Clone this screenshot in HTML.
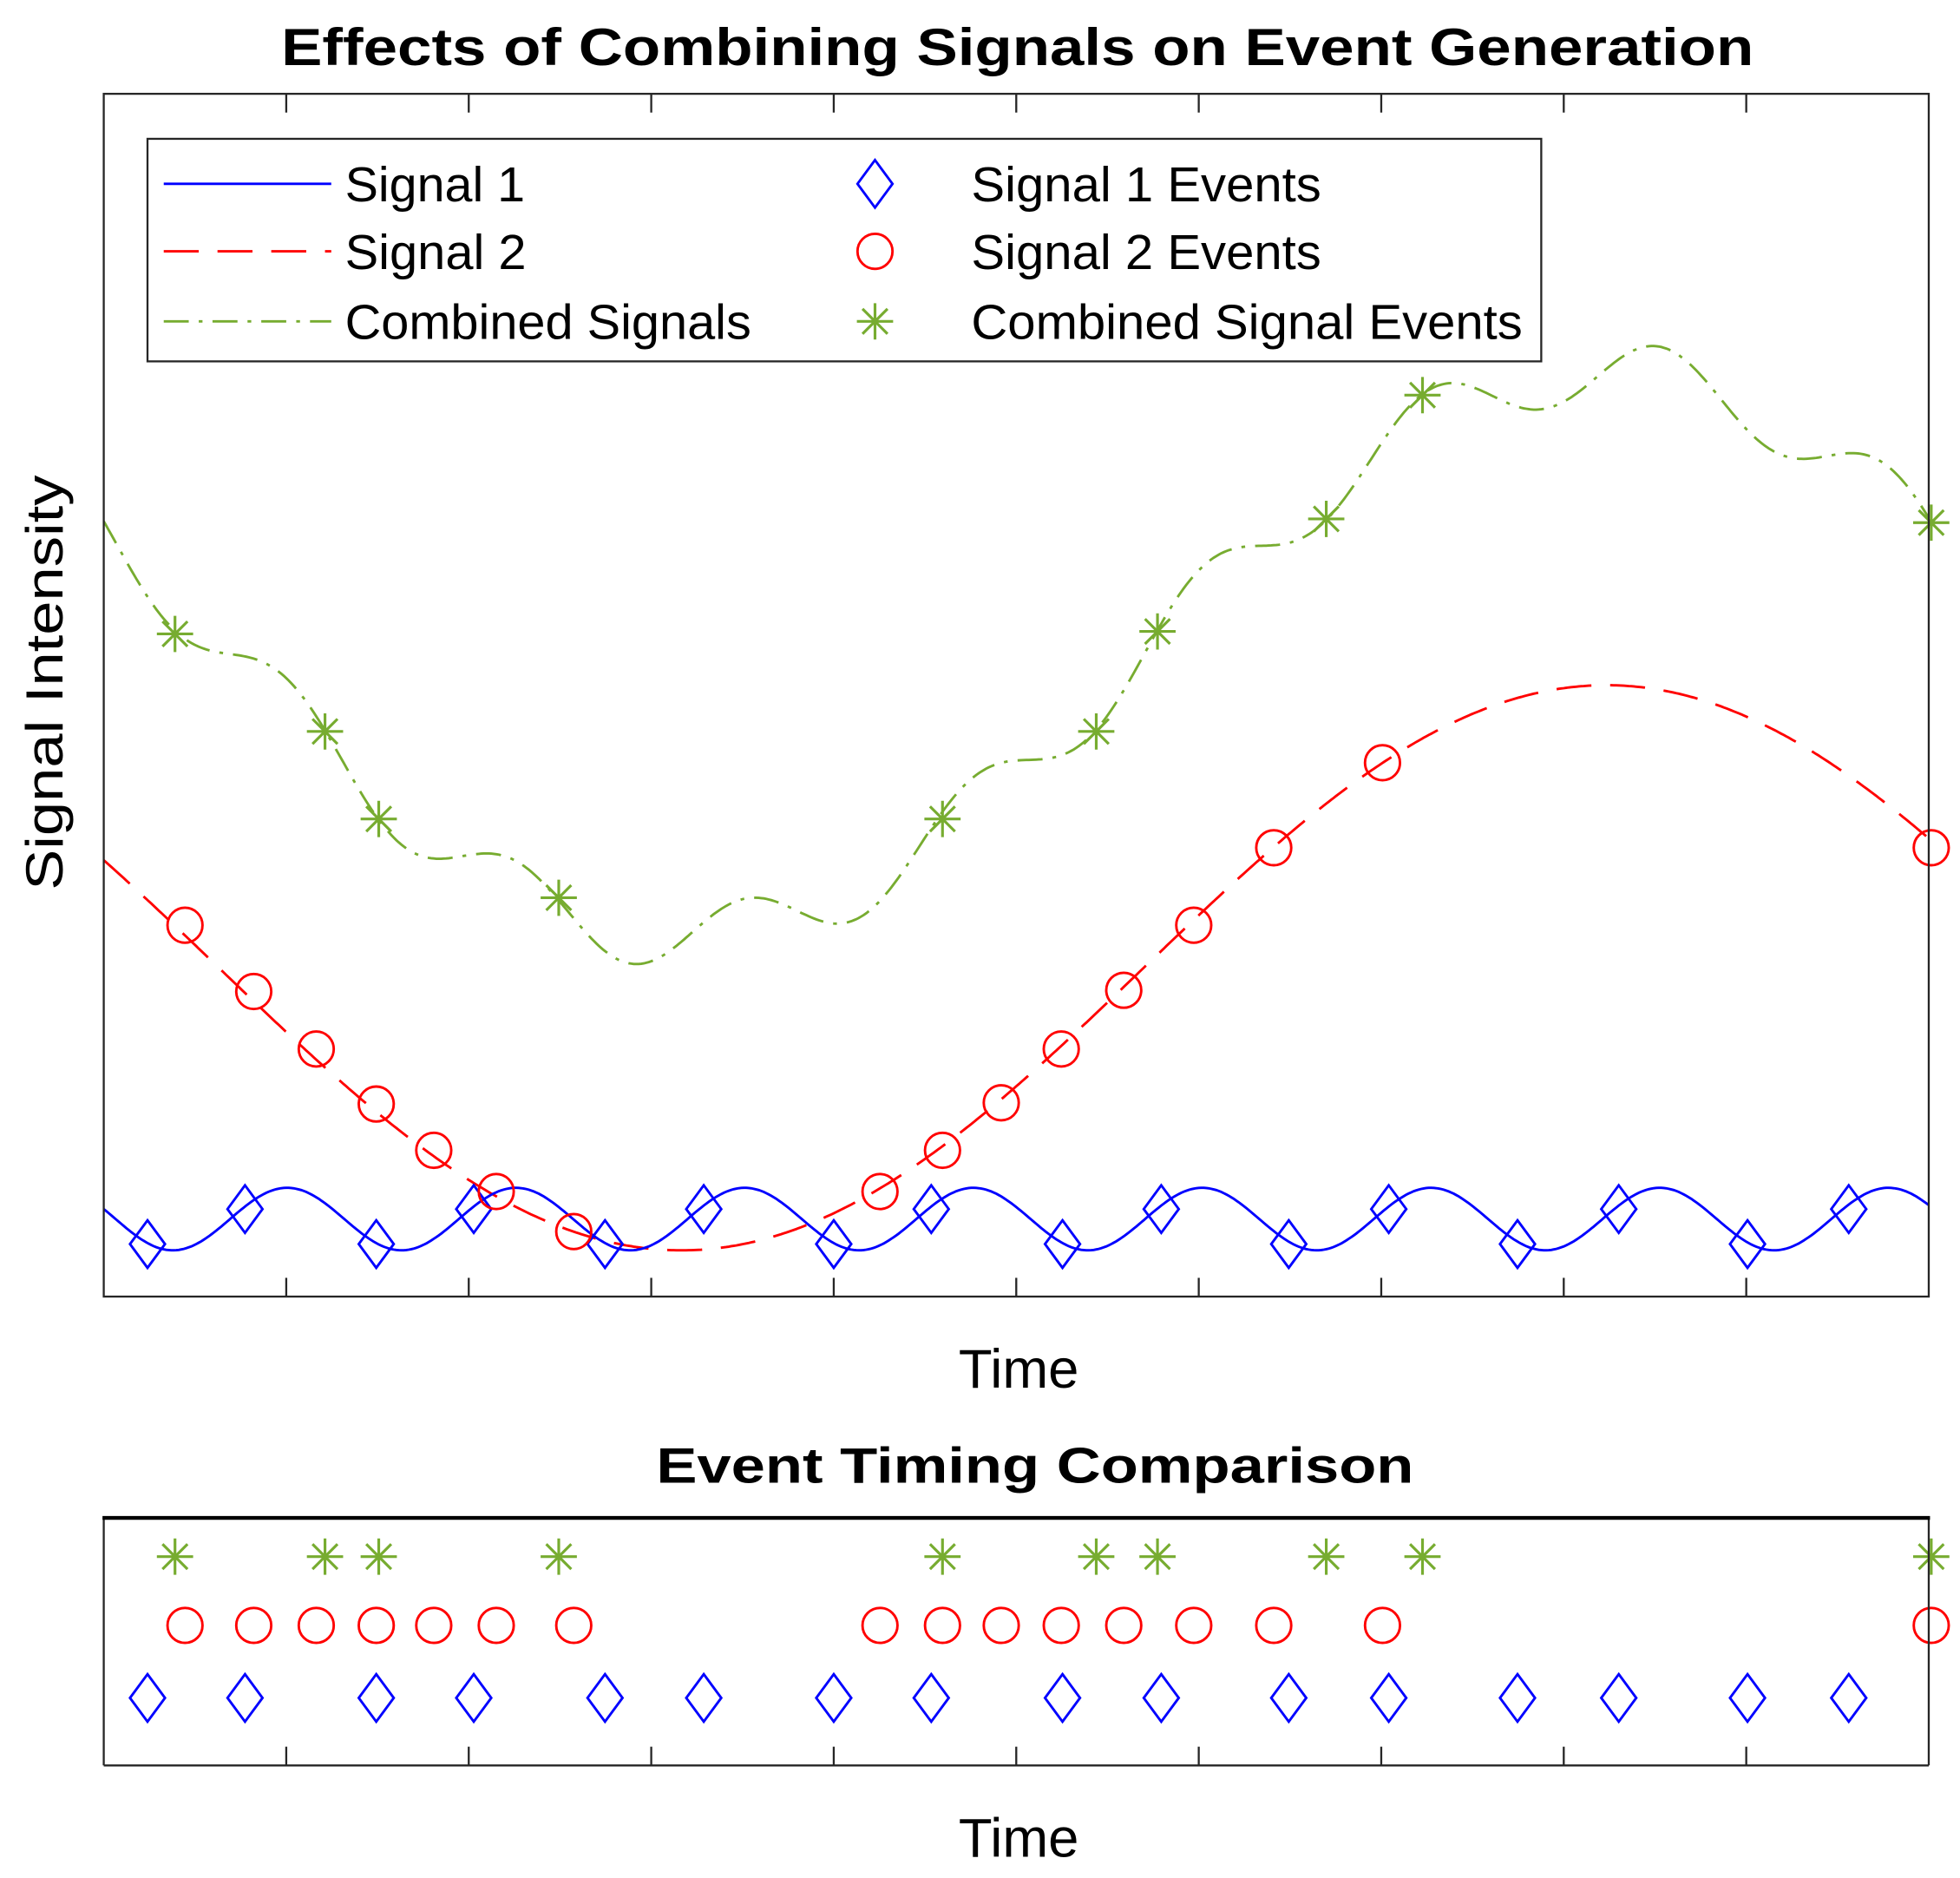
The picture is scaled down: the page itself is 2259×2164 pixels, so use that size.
<!DOCTYPE html>
<html><head><meta charset="utf-8"><style>
html,body{margin:0;padding:0;background:#fff;}
svg{display:block;}
text{font-family:"Liberation Sans",Arial,sans-serif;fill:#000;}
</style></head><body>
<svg id="s" width="2259" height="2164" viewBox="0 0 1568 1502" xmlns="http://www.w3.org/2000/svg">
<rect width="1568" height="1502" fill="#fff"/>
<text x="814" y="52" font-size="42" font-weight="bold" text-anchor="middle" textLength="1178" lengthAdjust="spacingAndGlyphs">Effects of Combining Signals on Event Generation</text>
<g id="main"></g>
<rect x="83" y="75" width="1460" height="962" fill="none" stroke="#262626" stroke-width="1.6"/>
<g id="ticks" stroke="#262626" stroke-width="1.6"></g>
<rect x="118" y="111" width="1115" height="178" fill="#fff" stroke="#262626" stroke-width="1.6"/>
<line x1="131" y1="147" x2="265" y2="147" stroke="#0000ff" stroke-width="2"/>
<line x1="131" y1="201" x2="265" y2="201" stroke="#ff0000" stroke-width="2" stroke-dasharray="28,15"/>
<line x1="131" y1="257" x2="265" y2="257" stroke="#77ac30" stroke-width="2" stroke-dasharray="20,8,3,8"/>
<text x="276" y="161" font-size="39.5" textLength="144" lengthAdjust="spacingAndGlyphs">Signal 1</text>
<text x="276" y="215" font-size="39.5" textLength="145" lengthAdjust="spacingAndGlyphs">Signal 2</text>
<text x="276" y="271" font-size="39.5" textLength="325" lengthAdjust="spacingAndGlyphs">Combined Signals</text>
<text x="777" y="161" font-size="39.5" textLength="280" lengthAdjust="spacingAndGlyphs">Signal 1 Events</text>
<text x="777" y="215" font-size="39.5" textLength="280" lengthAdjust="spacingAndGlyphs">Signal 2 Events</text>
<text x="777" y="271" font-size="39.5" textLength="441" lengthAdjust="spacingAndGlyphs">Combined Signal Events</text>
<g id="legm"></g>
<text x="0" y="0" font-size="42" text-anchor="middle" transform="translate(50,546) rotate(-90)" textLength="332" lengthAdjust="spacingAndGlyphs">Signal Intensity</text>
<text x="815" y="1110" font-size="44" text-anchor="middle">Time</text>
<text x="828" y="1186" font-size="40" font-weight="bold" text-anchor="middle" textLength="606" lengthAdjust="spacingAndGlyphs">Event Timing Comparison</text>
<g id="bot"></g>
<line x1="83" y1="1412" x2="1543" y2="1412" stroke="#262626" stroke-width="1.6"/>
<line x1="83" y1="1213" x2="83" y2="1412" stroke="#262626" stroke-width="1.6"/>
<line x1="1543" y1="1213" x2="1543" y2="1412" stroke="#262626" stroke-width="1.6"/>
<line x1="82" y1="1214" x2="1544" y2="1214" stroke="#000" stroke-width="3"/>
<g id="bticks" stroke="#262626" stroke-width="1.6"></g>
<text x="815" y="1485" font-size="44" text-anchor="middle">Time</text>
</svg>
<script>
var NS="http://www.w3.org/2000/svg";
function el(p,t,a){var e=document.createElementNS(NS,t);for(var k in a)e.setAttribute(k,a[k]);p.appendChild(e);return e;}
var main=document.getElementById('main'),bot=document.getElementById('bot');
function s1(x){return 975-25*Math.sin(2*Math.PI*(x-184)/183);}
function s2(x){return 774+226*Math.cos(Math.PI*(x-545)/740);}
function s3(x){return s2(x)+s1(x)-1238+12*Math.min(1,(x-83)/350)+6*Math.max(0,(x-1250)/300);}
function path(f){var d="";for(var x=83;x<=1543;x+=2){d+=(x==83?"M":"L")+x+","+f(x).toFixed(1)+" ";}return d;}
el(main,'path',{d:path(s3),fill:'none',stroke:'#77ac30','stroke-width':2,'stroke-dasharray':'20,8,3,8'});
el(main,'path',{d:path(s2),fill:'none',stroke:'#ff0000','stroke-width':2,'stroke-dasharray':'28,15'});
el(main,'path',{d:path(s1),fill:'none',stroke:'#0000ff','stroke-width':2});
function dia(p,x,y){el(p,'path',{d:"M"+x+","+(y-19)+" L"+(x+14)+","+y+" L"+x+","+(y+19)+" L"+(x-14)+","+y+" Z",fill:'none',stroke:'#0000ff','stroke-width':2});}
function cir(p,x,y){el(p,'circle',{cx:x,cy:y,r:14,fill:'none',stroke:'#ff0000','stroke-width':2});}
function star(p,x,y){var r=14.5,q=10;el(p,'path',{d:"M"+(x-r)+","+y+"h"+(2*r)+"M"+x+","+(y-r)+"v"+(2*r)+"M"+(x-q)+","+(y-q)+"l"+(2*q)+","+(2*q)+"M"+(x-q)+","+(y+q)+"l"+(2*q)+","+(-2*q),stroke:'#77ac30','stroke-width':2.2,fill:'none'});}
var D=[[118,995],[196,967],[301,995],[379,967],[484,995],[563,967],[667,995],[745,967],[850,995],[929,967],[1031,995],[1111,967],[1214,995],[1295,967],[1398,995],[1479,967]];
var C=[[148,740],[203,793],[253,839],[301,883],[347,920],[397,953],[459,985],[704,953],[754,920],[801,882],[849,839],[899,792],[955,740],[1019,678],[1106,610],[1545,678]];
var S=[[140,507],[260,585],[303,655],[447,718],[754,655],[877,585],[926,505],[1061,415],[1138,316],[1545,418]];
D.forEach(function(p){dia(main,p[0],p[1]);dia(bot,p[0],1358);});
C.forEach(function(p){cir(main,p[0],p[1]);cir(bot,p[0],1300);});
S.forEach(function(p){star(main,p[0],p[1]);star(bot,p[0],1245);});
dia(document.getElementById('legm'),700,147);cir(document.getElementById('legm'),700,201);star(document.getElementById('legm'),700,257);
var t=document.getElementById('ticks'),bt=document.getElementById('bticks');
for(var i=1;i<10;i++){var x=83+i*146;
el(t,'line',{x1:x,y1:75,x2:x,y2:90});el(t,'line',{x1:x,y1:1037,x2:x,y2:1022});
el(bt,'line',{x1:x,y1:1412,x2:x,y2:1397});}
</script>
</body></html>
